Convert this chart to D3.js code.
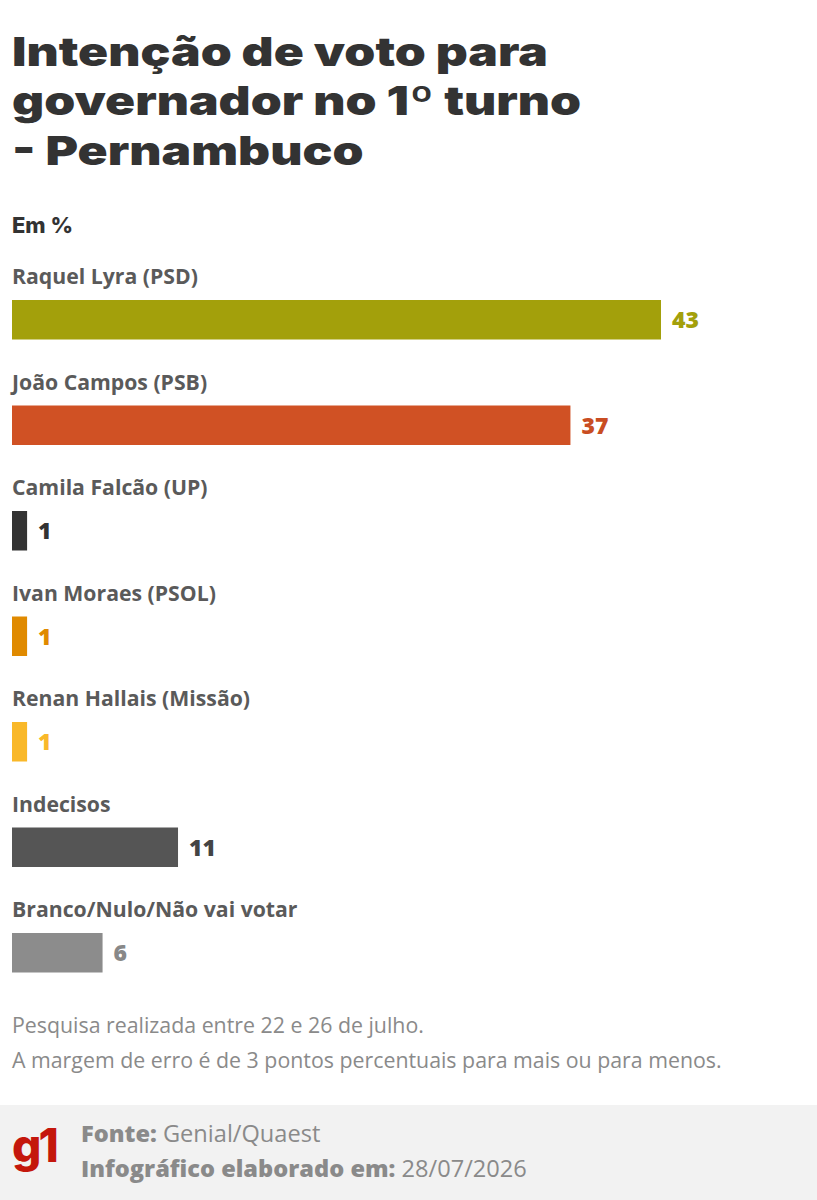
<!DOCTYPE html>
<html><head><meta charset="utf-8">
<script src="https://cdn.jsdelivr.net/npm/d3@7"></script>
<style>body{margin:0;background:#fff;} svg{display:block;}</style>
</head><body>
<script>
const categories = ["Raquel Lyra (PSD)","João Campos (PSB)","Camila Falcão (UP)","Ivan Moraes (PSOL)","Renan Hallais (Missão)","Indecisos","Branco/Nulo/Não vai votar"];
const values = [43,37,1,1,1,11,6];
const barColors = ["#a3a00b","#d05124","#333333","#e08a00","#f9b829","#555555","#8c8c8c"];
const labelColors = ["#a3a00b","#c94d22","#333333","#e08a00","#f9b829","#444444","#888888"];
const titleLines = ["Intenção de voto para","governador no 1º turno","- Pernambuco"];
const notes = ["Pesquisa realizada entre 22 e 26 de julho.","A margem de erro é de 3 pontos percentuais para mais ou para menos."];

const W = 817, H = 1200;
const svg = d3.select("body").append("svg").attr("width",W).attr("height",H);
const font = "'Open Sans', sans-serif";
const headFont = "Inter, 'Open Sans', sans-serif";

function fit(sel, target, k=0){
  const n = sel.nodes()[k];
  const fs = parseFloat(n.getAttribute("font-size"));
  sel.attr("font-size", fs*target/n.getComputedTextLength());
}

// title: one text element, lines as tspans; fixed size, width matched by horizontal stretch
const title = svg.append("text")
  .attr("font-family",headFont).attr("font-weight",900).attr("font-size",40)
  .attr("fill","#333");
title.selectAll("tspan").data(titleLines).join("tspan")
  .attr("x",0).attr("y",(d,i)=>66+i*49.5).text(d=>d);
{
  const w = title.select("tspan").node().getComputedTextLength();
  title.attr("transform", `translate(12,0) scale(${536/w},1)`);
}

const em = svg.append("text").attr("x",12).attr("y",233).attr("font-family",headFont)
  .attr("font-weight",800).attr("font-size",20).attr("fill","#333").text("Em %");
fit(em,61);

const x = d3.scaleLinear().domain([0,43]).range([12,661]);
const y = d3.scaleBand().domain(categories).range([300,300+105.5*7]);
const barH = 39.5;

const rows = svg.append("g").selectAll("g.row").data(categories).join("g");
const labels = rows.append("text").attr("x",12).attr("y",d=>y(d)-16)
  .attr("font-family",font).attr("font-weight",700).attr("font-size",19).attr("fill","#5a5a5a").text(d=>d);
fit(labels,186,0);
rows.append("rect").attr("x",x(0)).attr("y",d=>y(d))
  .attr("width",(d,i)=>x(values[i])-x(0)).attr("height",barH)
  .attr("fill",(d,i)=>barColors[i]);
rows.append("text").attr("x",(d,i)=>x(values[i])+11).attr("y",d=>y(d)+barH/2+8.5)
  .attr("font-family",font).attr("font-weight",800).attr("font-size",23)
  .attr("fill",(d,i)=>labelColors[i]).text((d,i)=>values[i]);

const nt = svg.selectAll("text.note").data(notes).join("text").attr("class","note")
  .attr("x",12).attr("y",(d,i)=>1033+i*35)
  .attr("font-family",font).attr("font-size",18).attr("fill","#8a8a8a").text(d=>d);
fit(nt,710,1);

svg.append("rect").attr("x",0).attr("y",1105).attr("width",W).attr("height",95).attr("fill","#f2f2f2");
svg.append("text").attr("x",12).attr("y",1162).attr("font-family",headFont).attr("font-weight",800)
  .attr("font-size",46).attr("letter-spacing",-3).attr("fill","#c4170c").text("g1");
const f1 = svg.append("text").attr("x",81).attr("y",1142).attr("font-family",font).attr("font-size",21).attr("fill","#8a8a8a");
f1.append("tspan").attr("font-weight",800).text("Fonte: ");
f1.append("tspan").text("Genial/Quaest");
const f2 = svg.append("text").attr("x",81).attr("y",1177).attr("font-family",font).attr("font-size",21).attr("fill","#8a8a8a");
f2.append("tspan").attr("font-weight",800).text("Infográfico elaborado em: ");
f2.append("tspan").text("28/07/2026");
fit(f2,446);
f1.attr("font-size", f2.attr("font-size"));
</script>
</body></html>
